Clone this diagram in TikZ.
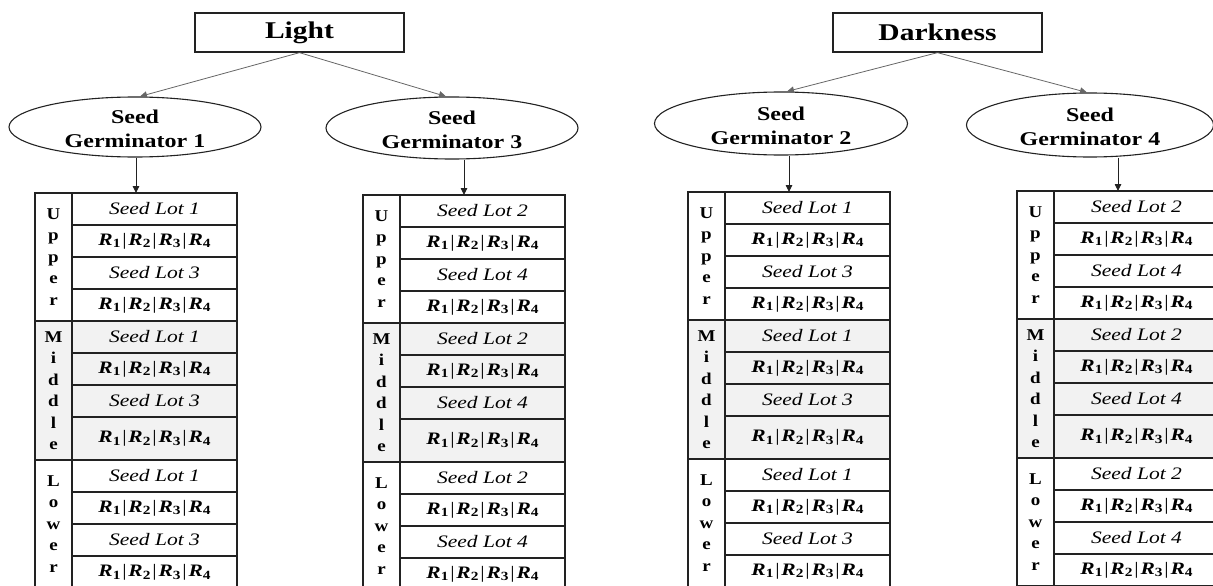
\documentclass[tikz,border=0pt]{standalone}
\usepackage{fontspec}
\setmainfont{Liberation Serif}
\usepackage{graphicx}
\usetikzlibrary{shapes.geometric,arrows.meta}

\definecolor{midgrey}{HTML}{F2F2F2}
\definecolor{ink}{HTML}{222222}

% horizontally widened text, as set in the figure
\newcommand{\hstretch}[1]{\scalebox{1.23}[1]{#1}}
\newcommand{\rsub}[1]{\textbf{\textit{R}}\raisebox{-0.35ex}{\fontsize{12.5}{12.5}\selectfont\bfseries #1}}
\newcommand{\rrow}{\hstretch{\rsub{1}\kern1.5pt|\kern1.5pt\rsub{2}\kern1.5pt|\kern1.5pt\rsub{3}\kern1.5pt|\kern1.5pt\rsub{4}}}
\newcommand{\lot}[1]{\hstretch{\itshape Seed Lot #1}}
\newcommand{\side}[1]{\scalebox{1.15}[1]{#1}}

\tikzset{
  rowline/.style={draw=ink, line width=1.1pt},
  header/.style={draw=ink, line width=1.3pt, rectangle, minimum width=209pt,
    minimum height=39pt, inner sep=0pt, font=\fontsize{24}{24}\selectfont\bfseries},
  germ/.style={draw=ink, line width=1.1pt, ellipse, inner sep=0pt},
  germtext/.style={align=center, inner sep=0pt,
    font=\fontsize{19.5}{24}\selectfont\bfseries},
  celltext/.style={inner sep=0pt, font=\fontsize{17.5}{17.5}\selectfont},
  sidetext/.style={align=center, inner sep=0pt,
    font=\fontsize{16.5}{21.5}\selectfont\bfseries},
  split/.style={draw=black!60, line width=0.8pt, -{Triangle[length=7pt,width=6.5pt]}},
  down/.style={draw=ink, line width=0.9pt, -{Triangle[length=7pt,width=6.5pt]}},
}

% one seed-germinator table: #1 name, #2 left, #3 top, #4/#5 the two seed lots
\newcommand{\seedtable}[5]{%
  \begin{scope}[shift={(#2,#3)}]
    \fill[midgrey] (0,128) rectangle (202,267);
    \foreach \yy in {32,64,96,160,192,224,299,331,363}
      \draw[rowline] (37,\yy) -- (202,\yy);
    \foreach \yy in {128,267}
      \draw[rowline] (0,\yy) -- (202,\yy);
    \draw[rowline] (0,0) rectangle (202,395);
    \draw[rowline] (37,0) -- (37,395);
    \node[sidetext] (#1-up)  at (18.5,64)    {\side{U}\\\side{p}\\\side{p}\\\side{e}\\\side{r}};
    \node[sidetext] (#1-mid) at (18.5,197.5) {\side{M}\\\side{i}\\\side{d}\\\side{d}\\\side{l}\\\side{e}};
    \node[sidetext] (#1-low) at (18.5,331)   {\side{L}\\\side{o}\\\side{w}\\\side{e}\\\side{r}};
    \foreach \cy/\tag/\txt in {16/a/{\lot{#4}},48/b/{\rrow},80/c/{\lot{#5}},112/d/{\rrow},
        144/e/{\lot{#4}},176/f/{\rrow},208/g/{\lot{#5}},245.5/h/{\rrow},
        283/i/{\lot{#4}},315/j/{\rrow},347/k/{\lot{#5}},379/l/{\rrow}}
      \node[celltext] (#1-\tag) at (119.5,\cy) {\txt};
    \coordinate (#1) at (101,0);
  \end{scope}}

\begin{document}
\begin{tikzpicture}[x=1pt,y=-1pt]
\useasboundingbox (0,0) rectangle (1213,586);
\clip (0,0) rectangle (1213,586);

% treatments
\node[header] (light) at (299.5,32.5) {\hstretch{Light}};
\node[header] (dark)  at (937.5,32.5) {\hstretch{Darkness}};

% germinators
\node[germ, minimum width=252pt, minimum height=60pt] (g1) at (135,127) {};
\node[germ, minimum width=252pt, minimum height=62pt] (g3) at (452,128) {};
\node[germ, minimum width=253pt, minimum height=63pt] (g2) at (781,123.5) {};
\node[germ, minimum width=247pt, minimum height=64pt] (g4) at (1090,125) {};
\node[germtext] (g1t) at (135,129) {\hstretch{Seed}\\\hstretch{Germinator 1}};
\node[germtext] (g3t) at (452,130) {\hstretch{Seed}\\\hstretch{Germinator 3}};
\node[germtext] (g2t) at (781,125.5) {\hstretch{Seed}\\\hstretch{Germinator 2}};
\node[germtext] (g4t) at (1090,127) {\hstretch{Seed}\\\hstretch{Germinator 4}};

% shelves
\seedtable{t1}{35}{193}{1}{3}
\seedtable{t3}{363}{195}{2}{4}
\seedtable{t2}{688}{192}{1}{3}
\seedtable{t4}{1017}{191}{2}{4}

% connectors
\draw[split] (light.south) -- ([xshift=5pt]g1.north);
\draw[split] (light.south) -- ([xshift=-6pt]g3.north);
\draw[split] (dark.south) -- ([xshift=6pt]g2.north);
\draw[split] (dark.south) -- ([xshift=-3pt]g4.north);
\draw[down] (t1 |- g1.south) -- (t1);
\draw[down] (t3 |- g3.south) -- (t3);
\draw[down] (t2 |- g2.south) -- (t2);
\draw[down] (t4 |- g4.south) -- (t4);
\end{tikzpicture}
\end{document}
